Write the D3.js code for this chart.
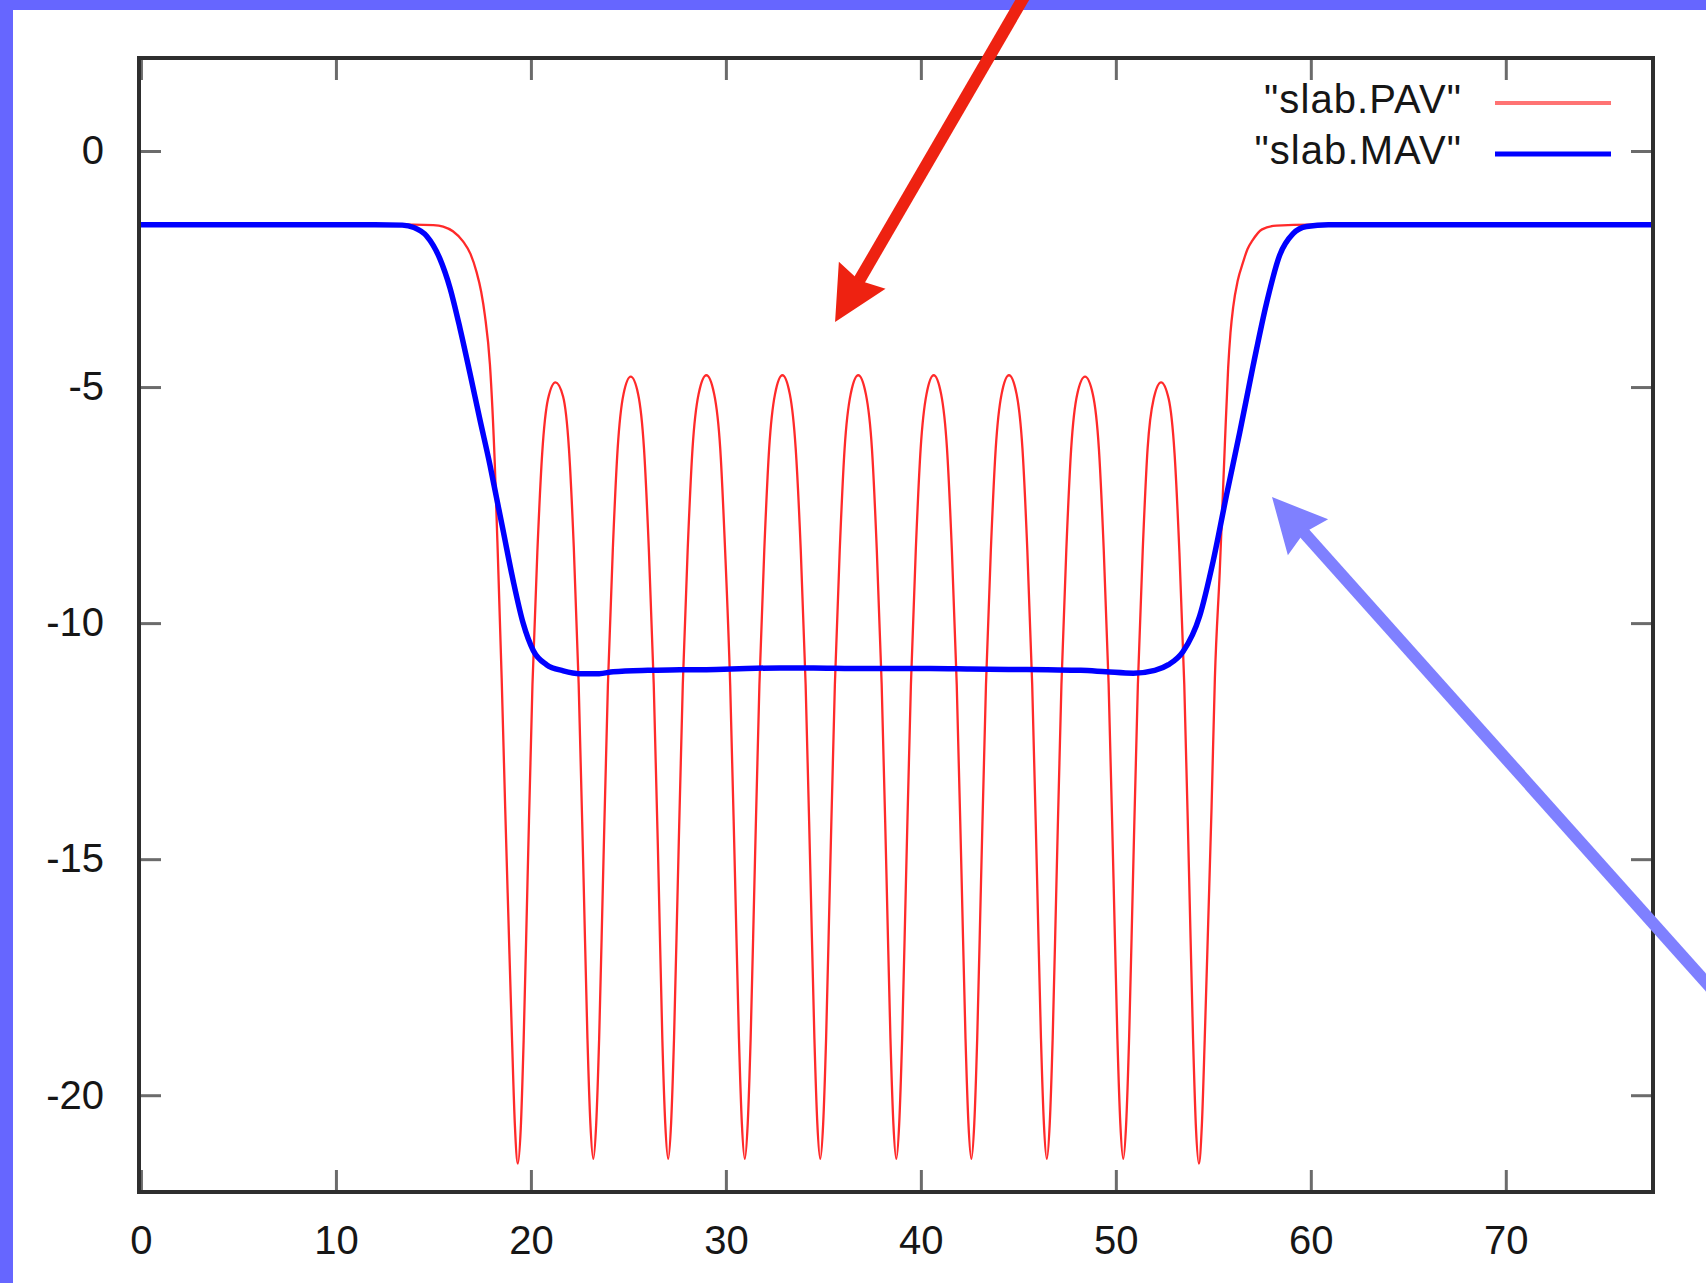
<!DOCTYPE html>
<html>
<head>
<meta charset="utf-8">
<script src="https://cdn.jsdelivr.net/npm/d3@7"></script>
<style>
  html, body { margin: 0; padding: 0; background: #fff; }
  svg { display: block; }
</style>
</head>
<body>
<script>

// "slab.PAV" : plane averaged potential
const pavData = [
  [0, -1.56], [5, -1.56], [10, -1.56], [13.97, -1.56], [15.0, -1.57], [15.5, -1.6], [16.0, -1.7], [16.53, -1.92],
  [16.9, -2.18], [17.21, -2.56], [17.45, -2.98], [17.64, -3.48], [17.9, -4.53], [18.15, -6.65], [18.32, -8.77],
  [18.5, -11.16], [18.68, -13.9], [18.85, -16.3], [19.03, -18.8], [19.18, -20.65], [19.33, -21.45],
  [19.48, -20.7], [19.63, -18.8], [19.83, -15.4], [20.08, -11.3], [20.33, -8.5], [20.58, -6.4], [20.88, -5.25],
  [21.26, -4.9],
  [21.65, -5.2], [21.95, -6.3], [22.2, -8.4], [22.45, -11.3], [22.7, -15.4], [22.9, -18.8], [23.05, -20.6],
  [23.2, -21.35],
  [23.35, -20.6], [23.5, -18.8], [23.7, -15.4], [23.95, -11.3], [24.2, -8.45], [24.45, -6.3], [24.75, -5.15],
  [25.12, -4.78],
  [25.5, -5.15], [25.8, -6.3], [26.05, -8.45], [26.3, -11.3], [26.55, -15.4], [26.74, -18.8], [26.89, -20.6],
  [27.04, -21.35],
  [27.19, -20.6], [27.34, -18.8], [27.54, -15.4], [27.79, -11.3], [28.04, -8.45], [28.29, -6.3], [28.6, -5.15],
  [29.0, -4.75],
  [29.4, -5.15], [29.71, -6.3], [29.96, -8.45], [30.22, -11.3], [30.47, -15.4], [30.67, -18.8], [30.82, -20.6],
  [30.97, -21.35],
  [31.12, -20.6], [31.27, -18.8], [31.47, -15.4], [31.72, -11.3], [31.97, -8.45], [32.22, -6.3], [32.52, -5.15],
  [32.9, -4.75],
  [33.28, -5.15], [33.58, -6.3], [33.84, -8.45], [34.09, -11.3], [34.34, -15.4], [34.54, -18.8], [34.69, -20.6],
  [34.84, -21.35],
  [34.99, -20.6], [35.14, -18.8], [35.34, -15.4], [35.59, -11.3], [35.84, -8.45], [36.09, -6.3], [36.4, -5.15],
  [36.79, -4.75],
  [37.18, -5.15], [37.49, -6.3], [37.74, -8.45], [37.99, -11.3], [38.24, -15.4], [38.44, -18.8], [38.59, -20.6],
  [38.74, -21.35],
  [38.89, -20.6], [39.04, -18.8], [39.24, -15.4], [39.49, -11.3], [39.74, -8.45], [39.99, -6.3], [40.29, -5.15],
  [40.66, -4.75],
  [41.04, -5.15], [41.34, -6.3], [41.59, -8.45], [41.84, -11.3], [42.09, -15.4], [42.29, -18.8], [42.44, -20.6],
  [42.59, -21.35],
  [42.74, -20.6], [42.89, -18.8], [43.09, -15.4], [43.34, -11.3], [43.59, -8.45], [43.84, -6.3], [44.14, -5.15],
  [44.52, -4.75],
  [44.91, -5.15], [45.21, -6.3], [45.46, -8.45], [45.71, -11.3], [45.96, -15.4], [46.16, -18.8], [46.31, -20.6],
  [46.46, -21.35],
  [46.61, -20.6], [46.76, -18.8], [46.96, -15.4], [47.21, -11.3], [47.46, -8.45], [47.71, -6.3], [48.02, -5.15],
  [48.42, -4.78],
  [48.82, -5.15], [49.13, -6.3], [49.38, -8.45], [49.63, -11.3], [49.88, -15.4], [50.08, -18.8], [50.23, -20.6],
  [50.38, -21.35],
  [50.53, -20.6], [50.68, -18.8], [50.88, -15.4], [51.13, -11.3], [51.38, -8.45], [51.63, -6.3], [51.94, -5.25],
  [52.32, -4.9],
  [52.71, -5.25], [53.01, -6.4], [53.26, -8.5], [53.51, -11.3], [53.76, -15.4], [53.96, -18.8], [54.11, -20.7],
  [54.26, -21.45],
  [54.41, -20.65], [54.56, -18.8], [54.74, -16.3], [54.91, -13.9], [55.08, -11.16], [55.33, -8.9],
  [55.59, -6.23], [55.76, -4.6], [55.88, -3.85], [56.02, -3.3], [56.25, -2.75], [56.53, -2.35], [56.75, -2.08],
  [57.0, -1.9], [57.5, -1.66], [58.24, -1.58],
  [60, -1.56], [65, -1.56], [70, -1.56], [77.5, -1.56]
];

// "slab.MAV" : macroscopic average
const mavData = [
  [0, -1.56], [6, -1.56], [12, -1.56], [13.4, -1.57], [14.0, -1.62], [14.65, -1.8], [15.33, -2.28],
  [15.85, -2.9], [16.36, -3.75], [16.87, -4.7], [17.38, -5.68], [17.9, -6.65], [18.24, -7.35],
  [18.58, -8.05], [19.09, -9.1], [19.6, -10.0], [20.12, -10.58], [20.8, -10.88], [21.66, -11.01],
  [22.51, -11.07], [23.5, -11.07], [24.22, -11.03], [26, -11.0], [27.64, -10.99], [29.5, -10.98],
  [31.06, -10.96], [32.77, -10.95], [34.5, -10.95], [36.5, -10.96], [38.5, -10.96], [40.5, -10.96],
  [42.5, -10.97], [44.5, -10.98], [46.5, -10.99], [48.2, -11.0], [49.5, -11.03], [50.9, -11.06],
  [52.0, -11.0], [52.7, -10.88], [53.45, -10.6], [54.3, -9.85], [54.99, -8.69], [55.68, -7.28],
  [56.36, -5.95], [57.04, -4.55], [57.73, -3.22], [58.41, -2.2], [59.09, -1.75], [59.78, -1.6],
  [60.9, -1.56], [65, -1.56], [70, -1.56], [77.5, -1.56]
];

const xTicks = [0, 10, 20, 30, 40, 50, 60, 70];
const yTicks = [0, -5, -10, -15, -20];
const legendLabels = ['"slab.PAV"', '"slab.MAV"'];

// annotation arrows, [tail, tip] in data units
const redArrow = [[45.34, 3.3], [35.6, -3.62]];
const blueArrow = [[81.5, -18.18], [58.01, -7.33]];


const width = 1706;
const height = 1283;
const plotLeft = 139;
const plotRight = 1653;
const plotTop = 58;
const plotBottom = 1192;
const fontFamily = '"Liberation Sans", Arial, Helvetica, sans-serif';

let svg = d3.select('body').append('svg')
  .attr('width', width)
  .attr('height', height);

svg.append('rect')
  .attr('width', width)
  .attr('height', height)
  .attr('fill', '#fff');

let x = d3.scaleLinear().domain([-0.1, 77.55]).range([plotLeft, plotRight]);
let y = d3.scaleLinear().domain([-22.05, 1.97]).range([plotBottom, plotTop]);

// Tick styling shared by all four sides
function styleAxis(g) {
  g.select('.domain').remove();
  g.selectAll('.tick line')
    .attr('stroke', '#6b6b6b')
    .attr('stroke-width', 3);
  g.selectAll('.tick text')
    .attr('fill', '#161616')
    .attr('font-size', 40)
    .attr('font-family', fontFamily);
}

// Bottom and left axes with labels
svg.append('g')
  .attr('transform', 'translate(0,' + plotBottom + ')')
  .call(d3.axisBottom(x).tickValues(xTicks).tickSize(-22).tickPadding(34).tickFormat(d => String(d)))
  .call(styleAxis);

svg.append('g')
  .attr('transform', 'translate(' + plotLeft + ',0)')
  .call(d3.axisLeft(y).tickValues(yTicks).tickSize(-22).tickPadding(35).tickFormat(d => String(d)))
  .call(styleAxis);

// Mirror ticks on top and right
svg.append('g')
  .attr('transform', 'translate(0,' + plotTop + ')')
  .call(d3.axisTop(x).tickValues(xTicks).tickSize(-22).tickFormat(''))
  .call(styleAxis);

svg.append('g')
  .attr('transform', 'translate(' + plotRight + ',0)')
  .call(d3.axisRight(y).tickValues(yTicks).tickSize(-22).tickFormat(''))
  .call(styleAxis);

// Curves
svg.append('clipPath').attr('id', 'plotClip')
  .append('rect')
  .attr('x', plotLeft)
  .attr('y', plotTop)
  .attr('width', plotRight - plotLeft)
  .attr('height', plotBottom - plotTop);

let makeCurve = d3.line()
  .x(d => x(d[0]))
  .y(d => y(d[1]))
  .curve(d3.curveMonotoneX);

svg.append('path')
  .attr('d', makeCurve(pavData))
  .attr('clip-path', 'url(#plotClip)')
  .attr('fill', 'none')
  .attr('stroke', '#ff2a2a')
  .attr('stroke-width', 2.3);

svg.append('path')
  .attr('d', makeCurve(mavData))
  .attr('clip-path', 'url(#plotClip)')
  .attr('fill', 'none')
  .attr('stroke', '#0000ff')
  .attr('stroke-width', 5.5)
  .attr('stroke-linejoin', 'round');

// Plot border
svg.append('rect')
  .attr('x', plotLeft)
  .attr('y', plotTop)
  .attr('width', plotRight - plotLeft)
  .attr('height', plotBottom - plotTop)
  .attr('fill', 'none')
  .attr('stroke', '#2e2e2e')
  .attr('stroke-width', 4);

// Legend
const legendColors = ['#ff7373', '#0000ff'];
const legendWidths = [4, 5];
for (let i = 0; i < legendLabels.length; i++) {
  let rowY = 103 + i * 51;
  svg.append('text')
    .text(legendLabels[i])
    .attr('x', 1462)
    .attr('y', rowY + 10)
    .attr('text-anchor', 'end')
    .attr('font-size', 40)
    .attr('letter-spacing', 1.1)
    .attr('font-family', fontFamily)
    .attr('fill', '#161616');
  svg.append('line')
    .attr('x1', 1495)
    .attr('x2', 1611)
    .attr('y1', rowY)
    .attr('y2', rowY)
    .attr('stroke', legendColors[i])
    .attr('stroke-width', legendWidths[i]);
}

// Slide frame (top and left bands)
svg.append('rect').attr('x', 0).attr('y', 0).attr('width', width).attr('height', 10).attr('fill', '#6666ff');
svg.append('rect').attr('x', 0).attr('y', 0).attr('width', 13).attr('height', height).attr('fill', '#6666ff');

// Annotation arrows
function drawArrow(arrow, color) {
  let tail = [x(arrow[0][0]), y(arrow[0][1])];
  let tip = [x(arrow[1][0]), y(arrow[1][1])];
  let dx = tip[0] - tail[0];
  let dy = tip[1] - tail[1];
  let len = Math.sqrt(dx * dx + dy * dy);
  let ux = dx / len, uy = dy / len;
  let px = -uy, py = ux;
  let headLen = 54, headHalf = 27, notch = 6;

  svg.append('line')
    .attr('x1', tail[0])
    .attr('y1', tail[1])
    .attr('x2', tip[0] - ux * (headLen - notch - 2))
    .attr('y2', tip[1] - uy * (headLen - notch - 2))
    .attr('stroke', color)
    .attr('stroke-width', 12);

  let head = [
    tip,
    [tip[0] - ux * headLen + px * headHalf, tip[1] - uy * headLen + py * headHalf],
    [tip[0] - ux * (headLen - notch), tip[1] - uy * (headLen - notch)],
    [tip[0] - ux * headLen - px * headHalf, tip[1] - uy * headLen - py * headHalf]
  ];
  svg.append('path')
    .attr('d', 'M' + head.map(p => p.join(',')).join('L') + 'Z')
    .attr('fill', color);
}

drawArrow(redArrow, '#ee2211');
drawArrow(blueArrow, '#7f80ff');

</script>
</body>
</html>
